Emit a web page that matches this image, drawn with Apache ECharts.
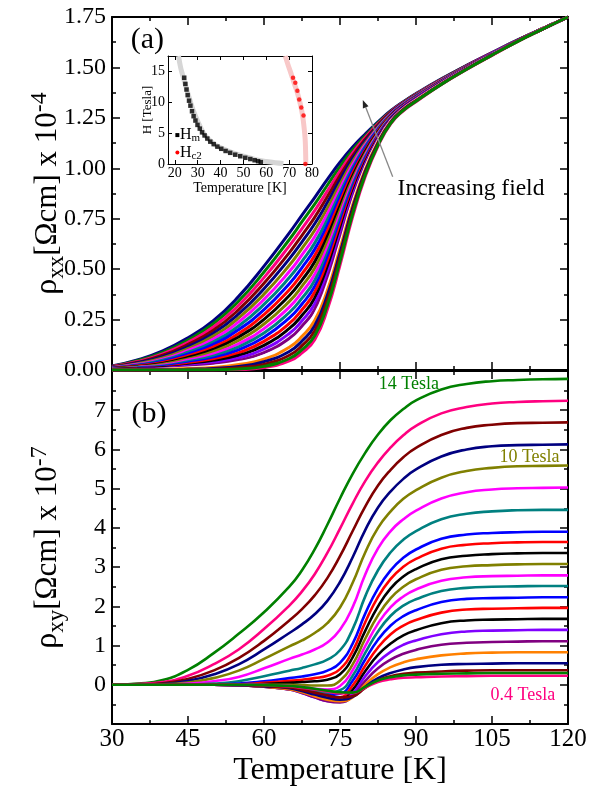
<!DOCTYPE html>
<html><head><meta charset="utf-8">
<script src="https://cdn.jsdelivr.net/npm/echarts@6/dist/echarts.min.js"></script>
<style>html,body{margin:0;padding:0;background:#fff}#c{width:599px;height:791px}</style>
</head><body><div id="c"></div>
<script>
const FONT = "'Liberation Serif','Times New Roman',serif";

// ---------- panel (a): rho_xx (x 10^-4 Ohm cm) ----------
const T_XX = [30,35,40,45,50,55,60,65,67.5,70,72.5,75,77.5,80,82.5,85,87.5,90,95,100,105,110,115,120];
const XX_C00 = [.020,.050,.095,.160,.245,.365,.515,.680,.768,.855,.945,1.030,1.105,1.170,1.230,1.285,1.330,1.370,1.443,1.510,1.573,1.635,1.693,1.75];
const XX_C01 = [.018,.046,.087,.149,.229,.342,.486,.647,.735,.822,.916,1.008,1.091,1.161,1.225,1.282,1.328,1.368,1.441,1.509,1.572,1.635,1.693,1.75];
const XX_C02 = [.017,.042,.080,.137,.213,.321,.458,.615,.701,.790,.887,.986,1.076,1.153,1.220,1.280,1.326,1.367,1.440,1.508,1.572,1.634,1.693,1.75];
const XX_C03 = [.015,.038,.073,.127,.197,.299,.430,.582,.668,.757,.859,.964,1.062,1.144,1.215,1.277,1.324,1.365,1.439,1.508,1.571,1.634,1.693,1.75];
const XX_C04 = [.014,.035,.066,.116,.182,.278,.403,.551,.635,.725,.830,.943,1.048,1.135,1.210,1.274,1.323,1.363,1.438,1.507,1.571,1.634,1.693,1.75];
const XX_C05 = [.013,.031,.060,.106,.168,.258,.376,.519,.603,.693,.802,.921,1.033,1.126,1.205,1.271,1.321,1.362,1.437,1.506,1.570,1.634,1.693,1.75];
const XX_C06 = [.011,.028,.053,.097,.154,.238,.350,.488,.571,.661,.774,.899,1.019,1.118,1.200,1.269,1.319,1.360,1.436,1.505,1.570,1.633,1.693,1.75];
const XX_C07 = [.010,.025,.048,.088,.140,.218,.325,.458,.539,.629,.745,.878,1.004,1.109,1.195,1.266,1.317,1.358,1.434,1.504,1.569,1.633,1.693,1.75];
const XX_C08 = [.009,.022,.042,.079,.127,.200,.299,.428,.508,.598,.717,.856,.990,1.100,1.190,1.263,1.315,1.357,1.433,1.503,1.569,1.633,1.692,1.75];
const XX_C09 = [.008,.020,.037,.070,.114,.181,.275,.398,.477,.567,.689,.834,.976,1.091,1.185,1.261,1.313,1.355,1.432,1.503,1.568,1.632,1.692,1.75];
const XX_C10 = [.007,.017,.032,.062,.102,.164,.251,.369,.446,.536,.661,.813,.961,1.083,1.180,1.258,1.311,1.353,1.431,1.502,1.568,1.632,1.692,1.75];
const XX_C11 = [.006,.015,.028,.055,.091,.147,.228,.340,.416,.505,.634,.791,.947,1.074,1.175,1.255,1.309,1.352,1.430,1.501,1.567,1.632,1.692,1.75];
const XX_C12 = [.005,.013,.024,.048,.080,.130,.205,.312,.386,.474,.606,.770,.933,1.065,1.170,1.253,1.308,1.350,1.429,1.500,1.567,1.632,1.692,1.75];
const XX_C13 = [.004,.011,.020,.041,.069,.115,.183,.285,.356,.444,.579,.748,.918,1.056,1.165,1.250,1.306,1.348,1.427,1.499,1.566,1.631,1.692,1.75];
const XX_C14 = [.003,.009,.016,.035,.059,.100,.162,.258,.327,.414,.552,.727,.904,1.048,1.160,1.247,1.304,1.347,1.426,1.498,1.566,1.631,1.692,1.75];
const XX_C15 = [.003,.007,.013,.029,.050,.085,.142,.231,.299,.385,.525,.706,.889,1.039,1.155,1.244,1.302,1.345,1.425,1.498,1.565,1.631,1.692,1.75];
const XX_C16 = [.002,.006,.011,.023,.041,.072,.122,.206,.271,.356,.498,.684,.875,1.030,1.150,1.242,1.300,1.343,1.424,1.497,1.564,1.630,1.691,1.75];
const XX_C17 = [.002,.004,.008,.019,.033,.059,.104,.181,.244,.327,.472,.663,.861,1.021,1.145,1.239,1.298,1.342,1.423,1.496,1.564,1.630,1.691,1.75];
const XX_C18 = [.001,.003,.006,.014,.026,.047,.086,.157,.218,.299,.446,.642,.846,1.013,1.140,1.236,1.296,1.340,1.422,1.495,1.563,1.630,1.691,1.75];
const XX_C19 = [.001,.002,.004,.010,.019,.037,.070,.134,.192,.272,.420,.621,.832,1.004,1.135,1.233,1.294,1.338,1.420,1.494,1.563,1.629,1.691,1.75];
const XX_C20 = [.001,.001,.003,.007,.013,.027,.054,.113,.167,.245,.394,.601,.818,.995,1.130,1.231,1.293,1.337,1.419,1.493,1.562,1.629,1.691,1.75];
const XX_C21 = [0,.001,.001,.004,.008,.018,.041,.092,.144,.219,.369,.580,.803,.986,1.125,1.228,1.291,1.335,1.418,1.493,1.562,1.629,1.690,1.75];
const XX_C22 = [0,0,.001,.002,.004,.011,.028,.073,.121,.194,.345,.559,.789,.978,1.120,1.225,1.289,1.333,1.417,1.492,1.561,1.629,1.690,1.75];
const XX_C23 = [0,0,0,.001,.001,.005,.018,.057,.101,.170,.321,.539,.774,.969,1.115,1.223,1.287,1.332,1.416,1.491,1.561,1.628,1.690,1.75];
const XX_C24 = [0,0,0,0,0,.002,.012,.045,.085,.150,.300,.520,.760,.960,1.110,1.220,1.285,1.330,1.415,1.490,1.560,1.628,1.690,1.75];

// ---------- panel (b): rho_xy (x 10^-7 Ohm cm) ----------
const T_XY = [30,35,40,45,50,55,60,65,67.5,70,72.5,75,77.5,80,82.5,85,87.5,90,95,100,105,110,115,120];
const XY_14T  = [0,.03,.12,.38,.80,1.30,1.85,2.50,2.92,3.45,4.08,4.75,5.38,5.92,6.38,6.75,7.03,7.25,7.53,7.67,7.74,7.77,7.79,7.80];
const XY_13T  = [0,.02,.07,.23,.52,.90,1.42,2.02,2.38,2.82,3.36,3.98,4.62,5.20,5.67,6.05,6.36,6.60,6.92,7.08,7.17,7.21,7.23,7.24];
const XY_12T  = [0,.01,.04,.15,.36,.68,1.12,1.64,1.93,2.28,2.72,3.28,3.92,4.55,5.08,5.48,5.80,6.04,6.37,6.55,6.63,6.67,6.68,6.69];
const XY_11T  = [0,.01,.02,.10,.26,.52,.90,1.32,1.54,1.80,2.14,2.62,3.25,3.95,4.52,4.93,5.25,5.49,5.82,6.00,6.08,6.11,6.12,6.13];
const XY_10T  = [0,0,.01,.06,.17,.36,.66,.98,1.13,1.32,1.57,1.97,2.60,3.38,4.00,4.42,4.74,4.96,5.28,5.45,5.53,5.57,5.58,5.59];
const XY_9T   = [0,0,0,.03,.09,.20,.42,.66,.77,.90,1.08,1.40,1.98,2.82,3.48,3.92,4.22,4.44,4.75,4.91,4.98,5.01,5.02,5.03];
const XY_8T   = [0,0,0,.01,.03,.09,.22,.36,.43,.52,.64,.88,1.42,2.26,2.92,3.38,3.70,3.92,4.22,4.36,4.42,4.45,4.46,4.46];
const XY_7T   = [0,0,0,0,.01,.03,.09,.17,.21,.27,.36,.56,1.05,1.82,2.46,2.92,3.24,3.45,3.72,3.83,3.87,3.89,3.90,3.90];
const XY_6_5T = [0,0,0,0,0,.01,.05,.10,.13,.17,.23,.40,.86,1.60,2.24,2.70,3.01,3.21,3.47,3.57,3.61,3.63,3.64,3.64];
const XY_6T   = [0,0,0,0,0,0,.02,.05,.07,.09,.13,.27,.70,1.38,2.00,2.46,2.76,2.95,3.20,3.29,3.33,3.35,3.36,3.36];
const XY_5_5T = [0,0,0,0,0,0,0,0,-.01,-.02,-.02,.10,.52,1.18,1.77,2.21,2.50,2.69,2.93,3.02,3.05,3.07,3.08,3.08];
const XY_5T   = [0,0,0,0,0,0,-.01,-.03,-.06,-.10,-.12,-.03,.37,.99,1.56,1.98,2.25,2.43,2.65,2.74,2.77,2.78,2.79,2.79];
const XY_4_5T = [0,0,0,0,0,0,-.02,-.05,-.10,-.16,-.20,-.14,.23,.82,1.36,1.76,2.02,2.18,2.39,2.47,2.50,2.51,2.52,2.52];
const XY_4T   = [0,0,0,0,0,-.005,-.03,-.07,-.13,-.21,-.26,-.23,.10,.65,1.15,1.51,1.75,1.90,2.11,2.19,2.21,2.22,2.23,2.23];
const XY_3_5T = [0,0,0,0,0,-.01,-.04,-.09,-.16,-.26,-.33,-.32,-.02,.49,.95,1.29,1.51,1.65,1.84,1.92,1.94,1.95,1.96,1.96];
const XY_3T   = [0,0,0,0,0,-.01,-.05,-.11,-.19,-.30,-.38,-.39,-.13,.35,.76,1.05,1.26,1.39,1.57,1.64,1.66,1.67,1.68,1.68];
const XY_2_5T = [0,0,0,0,0,-.01,-.05,-.12,-.21,-.32,-.41,-.43,-.22,.22,.58,.84,1.02,1.13,1.29,1.36,1.38,1.39,1.40,1.40];
const XY_2T   = [0,0,0,0,0,-.01,-.05,-.12,-.21,-.32,-.42,-.45,-.29,.10,.42,.64,.79,.89,1.02,1.07,1.09,1.10,1.11,1.11];
const XY_1_5T = [0,0,0,0,0,-.01,-.05,-.11,-.19,-.29,-.38,-.42,-.32,.01,.27,.45,.57,.65,.75,.80,.82,.83,.83,.83];
const XY_1T   = [0,0,0,0,0,-.01,-.04,-.09,-.16,-.25,-.33,-.38,-.31,-.05,.17,.30,.39,.45,.51,.53,.54,.55,.55,.55];
const XY_0_7T = [0,0,0,0,0,0,-.03,-.07,-.13,-.20,-.27,-.32,-.29,-.08,.11,.22,.28,.31,.34,.36,.37,.37,.37,.37];
const XY_0_6T = [0,0,0,0,0,0,-.01,-.03,-.06,-.10,-.15,-.19,-.20,-.05,.11,.19,.24,.26,.28,.29,.30,.30,.30,.30];
const XY_0_4T = [0,0,0,0,0,0,-.01,-.04,-.08,-.12,-.17,-.22,-.21,-.07,.07,.14,.18,.19,.21,.22,.23,.23,.23,.23];

// ---------- inset: H_m and H_c2 ----------
const HM_T = [24.1,24.6,25.1,25.6,26.2,26.8,27.5,28.2,29.0,29.9,30.9,31.9,33.0,34.2,35.5,37.0,38.6,40.3,42.2,44.2,46.4,48.6,50.8,53.0,54.9,56.4,57.6];
const HM_H = [13.9,12.9,12.0,11.1,10.2,9.4,8.5,7.7,7.0,6.3,5.7,5.1,4.6,4.1,3.6,3.2,2.8,2.45,2.1,1.8,1.5,1.25,1.0,0.8,0.6,0.45,0.3];
const HMFIT_T = [21.6,22.5,23.5,24.5,26,28,30,32.5,35,38,42,46,50,55,60,64,67.5];
const HMFIT_H = [17.4,15.6,14.2,12.9,11.0,8.7,6.9,5.0,3.9,3.0,2.3,1.7,1.25,0.75,0.4,0.2,0.08];
const HC2_T = [71.7,72.7,73.6,74.4,75.3,76.3,77.1];
const HC2_H = [13.9,13.1,11.8,10.4,9.1,7.8,0];
const HC2FIT_T = [68.3,69.5,70.8,72.2,73.5,74.8,75.8,76.5,77.0,77.2,77.3];
const HC2FIT_H = [17.4,16.0,14.6,13.0,11.6,9.8,8.0,6.0,4.0,2.0,0.0];

// tick definitions
const INSET_X_TICKS = [20,30,40,50,60,70,80];
const INSET_Y_TICKS = [0,5,10,15];

// drawing order (later = on top) with colours
const XX_CURVES = [
  [XX_C00,'#000080'],[XX_C01,'#008000'],[XX_C02,'#FF0080'],[XX_C03,'#800000'],[XX_C04,'#000080'],
  [XX_C05,'#808000'],[XX_C06,'#FF00FF'],[XX_C07,'#008080'],[XX_C08,'#0000FF'],[XX_C09,'#FF0000'],
  [XX_C10,'#000000'],[XX_C11,'#808000'],[XX_C12,'#FF00FF'],[XX_C13,'#008080'],[XX_C14,'#0000FF'],
  [XX_C15,'#FF0000'],[XX_C16,'#000000'],[XX_C17,'#8000FF'],[XX_C18,'#800080'],[XX_C19,'#FFFFFF'],
  [XX_C20,'#FF8000'],[XX_C21,'#000080'],[XX_C22,'#800000'],[XX_C24,'#FF0080'],[XX_C23,'#008000']
];
const XY_CURVES = [
  [XY_14T,'#008000'],[XY_13T,'#FF0080'],[XY_12T,'#800000'],[XY_11T,'#000080'],[XY_10T,'#808000'],
  [XY_9T,'#FF00FF'],[XY_8T,'#008080'],[XY_7T,'#0000FF'],[XY_6_5T,'#FF0000'],[XY_6T,'#000000'],
  [XY_5_5T,'#808000'],[XY_5T,'#FF00FF'],[XY_4_5T,'#008080'],[XY_4T,'#0000FF'],[XY_3_5T,'#FF0000'],
  [XY_3T,'#000000'],[XY_2_5T,'#8000FF'],[XY_2T,'#800080'],[XY_1_5T,'#FF8000'],[XY_1T,'#000080'],
  [XY_0_7T,'#800000'],[XY_0_4T,'#FF0080'],[XY_0_6T,'#008000']
];

const zip = (xs, ys) => xs.map((x, i) => [x, ys[i]]);

const tickStyle = {color:'#000', width:1.5};
function mainX(gridIndex, position, showLabel) {
  return {
    type:'value', gridIndex, position, min:30, max:120, interval:15,
    axisLine:{show:true, onZero:false, lineStyle:{color:'#000', width:2}},
    axisTick:{show:true, inside:true, length:8, lineStyle:tickStyle},
    minorTick:{show:true, splitNumber:2, length:4, lineStyle:tickStyle},
    splitLine:{show:false}, minorSplitLine:{show:false},
    axisLabel:{show:showLabel, color:'#000', fontFamily:FONT, fontSize:25, margin:3, showMinLabel:true, showMaxLabel:true},
    name: showLabel ? 'Temperature [K]' : '',
    nameLocation:'middle', nameGap:31, nameMoveOverlap:false,
    nameTextStyle:{color:'#000', fontFamily:FONT, fontSize:32}
  };
}
function mainY(gridIndex, position, min, max, interval, showLabel, fmt, name) {
  return {
    type:'value', gridIndex, position, min, max, interval,
    axisLine:{show:true, onZero:false, lineStyle:{color:'#000', width:2}},
    axisTick:{show:true, inside:true, length:8, lineStyle:tickStyle},
    minorTick:{show:true, splitNumber:2, length:4, lineStyle:tickStyle},
    splitLine:{show:false}, minorSplitLine:{show:false},
    axisLabel:{show:showLabel, color:'#000', fontFamily:FONT, fontSize:24, margin:6, formatter:fmt, showMinLabel:true, showMaxLabel:true},
    name: name || '', nameLocation:'middle', nameGap:44, nameMoveOverlap:false,
    nameTextStyle:{color:'#000', fontFamily:FONT, fontSize:31,
      rich:{
        r:{fontFamily:FONT, fontSize:32, lineHeight:40, color:'#000'},
        s:{fontFamily:FONT, fontSize:23, lineHeight:23, verticalAlign:'bottom', color:'#000'},
        n:{fontFamily:FONT, fontSize:31, lineHeight:40, color:'#000'},
        p:{fontFamily:FONT, fontSize:24, lineHeight:24, verticalAlign:'top', color:'#000'}
      }}
  };
}
function insetX(position, showLabel) {
  return {
    type:'value', gridIndex:2, position, min:17, max:80,
    axisLine:{show:true, onZero:false, lineStyle:{color:'#000', width:1}},
    axisTick:{show:true, inside:true, length:4, customValues:INSET_X_TICKS, lineStyle:{color:'#000', width:1}},
    splitLine:{show:false},
    axisLabel:{show:showLabel, customValues:INSET_X_TICKS, color:'#000', fontFamily:FONT, fontSize:14, margin:2},
    name: showLabel ? 'Temperature [K]' : '', nameLocation:'middle', nameGap:17, nameMoveOverlap:false,
    nameTextStyle:{color:'#000', fontFamily:FONT, fontSize:14}
  };
}
function insetY(position, showLabel) {
  return {
    type:'value', gridIndex:2, position, min:0, max:17.4,
    axisLine:{show:true, onZero:false, lineStyle:{color:'#000', width:1}},
    axisTick:{show:true, inside:true, length:4, customValues:INSET_Y_TICKS, lineStyle:{color:'#000', width:1}},
    splitLine:{show:false},
    axisLabel:{show:showLabel, customValues:INSET_Y_TICKS, color:'#000', fontFamily:FONT, fontSize:14, margin:3},
    name: showLabel ? 'H [Tesla]' : '', nameLocation:'middle', nameGap:14, nameMoveOverlap:false,
    nameTextStyle:{color:'#000', fontFamily:FONT, fontSize:13}
  };
}

const series = [];
XX_CURVES.forEach(([c, col]) => series.push({
  type:'line', xAxisIndex:0, yAxisIndex:0, data:zip(T_XX, c), showSymbol:false, symbol:'none',
  smooth:0.5, lineStyle:{color:col, width:3}, silent:true
}));
XY_CURVES.forEach(([c, col]) => series.push({
  type:'line', xAxisIndex:2, yAxisIndex:2, data:zip(T_XY, c), showSymbol:false, symbol:'none',
  smooth:0.5, lineStyle:{color:col, width:2.6}, silent:true
}));
series.push({type:'line', xAxisIndex:4, yAxisIndex:4, data:zip(HMFIT_T, HMFIT_H), symbol:'none', smooth:0.4,
  lineStyle:{color:'#d6d6d6', width:5}, silent:true, z:2});
series.push({type:'line', xAxisIndex:4, yAxisIndex:4, data:zip(HC2FIT_T, HC2FIT_H), symbol:'none', smooth:0.4,
  lineStyle:{color:'#f8c8c8', width:5}, silent:true, z:2});
series.push({type:'scatter', xAxisIndex:4, yAxisIndex:4, data:zip(HM_T, HM_H), symbol:'rect', symbolSize:4.5,
  itemStyle:{color:'#000'}, silent:true, z:5});
series.push({type:'scatter', xAxisIndex:4, yAxisIndex:4, data:zip(HC2_T, HC2_H), symbol:'circle', symbolSize:4.5,
  itemStyle:{color:'#ff0000'}, silent:true, z:5});

const option = {
  animation:false,
  backgroundColor:'#fff',
  grid:[
    {left:112, top:17, width:456, height:353, show:false, outerBoundsMode:'none'},
    {left:112, top:371, width:456, height:353, show:false, outerBoundsMode:'none'},
    {left:168, top:56, width:144, height:108, show:true, backgroundColor:'#fff', borderWidth:0, outerBoundsMode:'none'}
  ],
  xAxis:[
    mainX(0,'bottom',false), mainX(0,'top',false),
    mainX(1,'bottom',true), mainX(1,'top',false),
    insetX('bottom',true), insetX('top',false)
  ],
  yAxis:[
    mainY(0,'left',0,1.75,0.25,true, v => v.toFixed(2), '{r|ρ}{s|xx}{n|[Ωcm] x 10}{p|-4}'),
    mainY(0,'right',0,1.75,0.25,false),
    mainY(1,'left',-1,8,1,true, v => (v >= 0 && v <= 7) ? String(v) : '', '{r|ρ}{s|xy}{n|[Ωcm] x 10}{p|-7}'),
    mainY(1,'right',-1,8,1,false),
    insetY('left',true), insetY('right',false)
  ],
  series
};

const chart = echarts.init(document.getElementById('c'), null, {renderer:'canvas'});
chart.setOption(option);

const pA = v => chart.convertToPixel({xAxisIndex:0, yAxisIndex:0}, v);
const pB = v => chart.convertToPixel({xAxisIndex:2, yAxisIndex:2}, v);
const pI = v => chart.convertToPixel({xAxisIndex:4, yAxisIndex:4}, v);

function txt(p, text, size, color, align) {
  return {type:'text', x:p[0], y:p[1], z:100,
    style:{text, fontFamily:FONT, fontSize:size, fill:color, align:align || 'center', verticalAlign:'middle'}};
}
const a0 = pA([85.4, 0.958]), a1 = pA([79.5, 1.339]);
const dx = a1[0]-a0[0], dy = a1[1]-a0[1], L = Math.hypot(dx, dy), ux = dx/L, uy = dy/L;
const hl = 8, hw = 3;
const base = [a1[0]-ux*hl, a1[1]-uy*hl];
const head = [[a1[0], a1[1]], [base[0]-uy*hw, base[1]+ux*hw], [base[0]+uy*hw, base[1]-ux*hw]];

const lm = pI([21.1, 4.66]), lc = pI([21.1, 1.85]);
const lt1 = pI([22.2, 4.66]), lt2 = pI([22.2, 1.85]);
const richHm = {
  h:{fontFamily:FONT, fontSize:16, lineHeight:18, fill:'#000', color:'#000'},
  s:{fontFamily:FONT, fontSize:11, lineHeight:11, verticalAlign:'bottom', fill:'#000', color:'#000'}
};

chart.setOption({graphic:[
  txt(pA([37.0, 1.636]), '(a)', 30, '#000'),
  txt(pB([37.3, 6.89]), '(b)', 30, '#000'),
  txt(pA([100.85, 0.897]), 'Increasing field', 23.5, '#000'),
  txt(pB([88.6, 7.65]), '14 Tesla', 18, '#008000'),
  txt(pB([112.4, 5.79]), '10 Tesla', 18, '#808000'),
  txt(pB([111.1, -0.26]), '0.4 Tesla', 18, '#FF0080'),
  {type:'line', z:100, shape:{x1:a0[0], y1:a0[1], x2:base[0], y2:base[1]}, style:{stroke:'#888', lineWidth:1.3}},
  {type:'polygon', z:100, shape:{points:head}, style:{fill:'#222'}},
  {type:'rect', z:100, shape:{x:lm[0]-2, y:lm[1]-2, width:4, height:4}, style:{fill:'#000'}},
  {type:'circle', z:100, shape:{cx:lc[0], cy:lc[1], r:2}, style:{fill:'#ff0000'}},
  {type:'text', z:100, x:lt1[0], y:lt1[1], style:{text:'{h|H}{s|m}', rich:richHm, align:'left', verticalAlign:'middle'}},
  {type:'text', z:100, x:lt2[0], y:lt2[1], style:{text:'{h|H}{s|c2}', rich:richHm, align:'left', verticalAlign:'middle'}}
]});
</script>
</body></html>
